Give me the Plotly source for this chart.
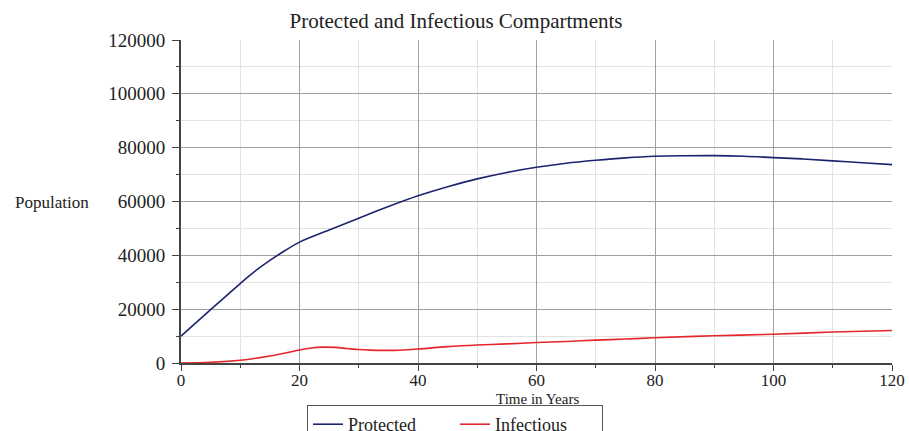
import plotly.graph_objects as go

t_protected = [0, 5, 10, 12.5, 15, 17.5, 20, 25, 30, 35, 40, 45, 50, 55, 60, 65, 70, 75, 80, 85, 90, 95, 100, 105, 110, 115, 120]
protected = [10000, 19800, 29500, 34100, 38100, 41700, 44900, 49400, 53800, 58100, 62100, 65500, 68400, 70800, 72700, 74200,
             75300, 76200, 76800, 77000, 77050, 76800, 76300, 75800, 75100, 74400, 73700]

t_infectious = [0, 5, 10, 15, 20, 22, 24, 26, 28, 30, 32, 36, 40, 45, 50, 55, 60, 65, 70, 75, 80, 90, 100, 110, 120]
infectious = [0, 250, 1000, 2600, 4800, 5600, 5900, 5800, 5400, 5000, 4800, 4700, 5200, 6100, 6700, 7100, 7600,
              8000, 8500, 8900, 9400, 10100, 10700, 11500, 12100]

x_ticks = [0, 20, 40, 60, 80, 100, 120]
y_ticks = [0, 20000, 40000, 60000, 80000, 100000, 120000]

SERIF = "Liberation Serif, Times New Roman, serif"
TXT = "#222222"

fig = go.Figure()
fig.add_trace(go.Scatter(x=t_protected, y=protected, mode="lines", name="Protected",
                         line=dict(color="#1c2470", width=1.6, shape="spline")))
fig.add_trace(go.Scatter(x=t_infectious, y=infectious, mode="lines", name="Infectious",
                         line=dict(color="#e5262a", width=1.6, shape="spline")))

fig.update_layout(
    width=909, height=431,
    margin=dict(l=181, r=17, t=40, b=68, autoexpand=False),
    paper_bgcolor="white", plot_bgcolor="white",
    font=dict(family=SERIF, color=TXT),
    title=dict(text="Protected and Infectious Compartments", x=456 / 909,
               xanchor="center", y=1 - 21 / 431, yanchor="middle",
               font=dict(family=SERIF, size=21, color=TXT)),
    showlegend=True,
    legend=dict(orientation="h", x=(455 - 181) / 711, xanchor="center", y=(363 - 405) / 323, yanchor="top",
                bordercolor="#555555", borderwidth=1, bgcolor="white",
                entrywidth=102, entrywidthmode="pixels",
                font=dict(family=SERIF, size=18, color=TXT), tracegroupgap=0),
    xaxis=dict(range=[0, 120], tickvals=x_ticks, ticktext=[str(v) for v in x_ticks],
               showgrid=True, gridcolor="#a0a0a0", gridwidth=1,
               showline=True, linecolor="#444444", linewidth=2,
               ticks="outside", ticklen=6, tickcolor="#444444",
               minor=dict(dtick=10, showgrid=True, gridcolor="#e2e2e2", ticks="outside", ticklen=3,
                          tickcolor="#444444"),
               tickfont=dict(family=SERIF, size=17, color=TXT),
               ticklabelstandoff=-5,
               zeroline=False, fixedrange=True, automargin=False),
    yaxis=dict(range=[0, 120000], tickvals=y_ticks, ticktext=[str(v) for v in y_ticks],
               showgrid=True, gridcolor="#a0a0a0", gridwidth=1,
               showline=True, linecolor="#444444", linewidth=2,
               ticks="outside", ticklen=7, tickcolor="#444444",
               minor=dict(dtick=10000, showgrid=True, gridcolor="#e2e2e2", ticks="outside", ticklen=3,
                          tickcolor="#444444"),
               tickfont=dict(family=SERIF, size=19, color=TXT),
               ticklabelstandoff=3,
               zeroline=False, fixedrange=True, automargin=False),
)

fig.add_annotation(text="Population", xref="paper", yref="paper",
                   x=(52 - 181) / 711, y=(363 - 202) / 323, xanchor="center", yanchor="middle",
                   showarrow=False, font=dict(family=SERIF, size=17, color=TXT))
fig.add_annotation(text="Time in Years", xref="paper", yref="paper",
                   x=(537 - 181) / 711, y=(363 - 398.5) / 323, xanchor="center", yanchor="middle",
                   showarrow=False, font=dict(family=SERIF, size=15, color=TXT))

fig.write_html("out.html", config={"displayModeBar": False},
               post_script="document.body.style.margin='0';document.body.style.overflow='hidden';")
